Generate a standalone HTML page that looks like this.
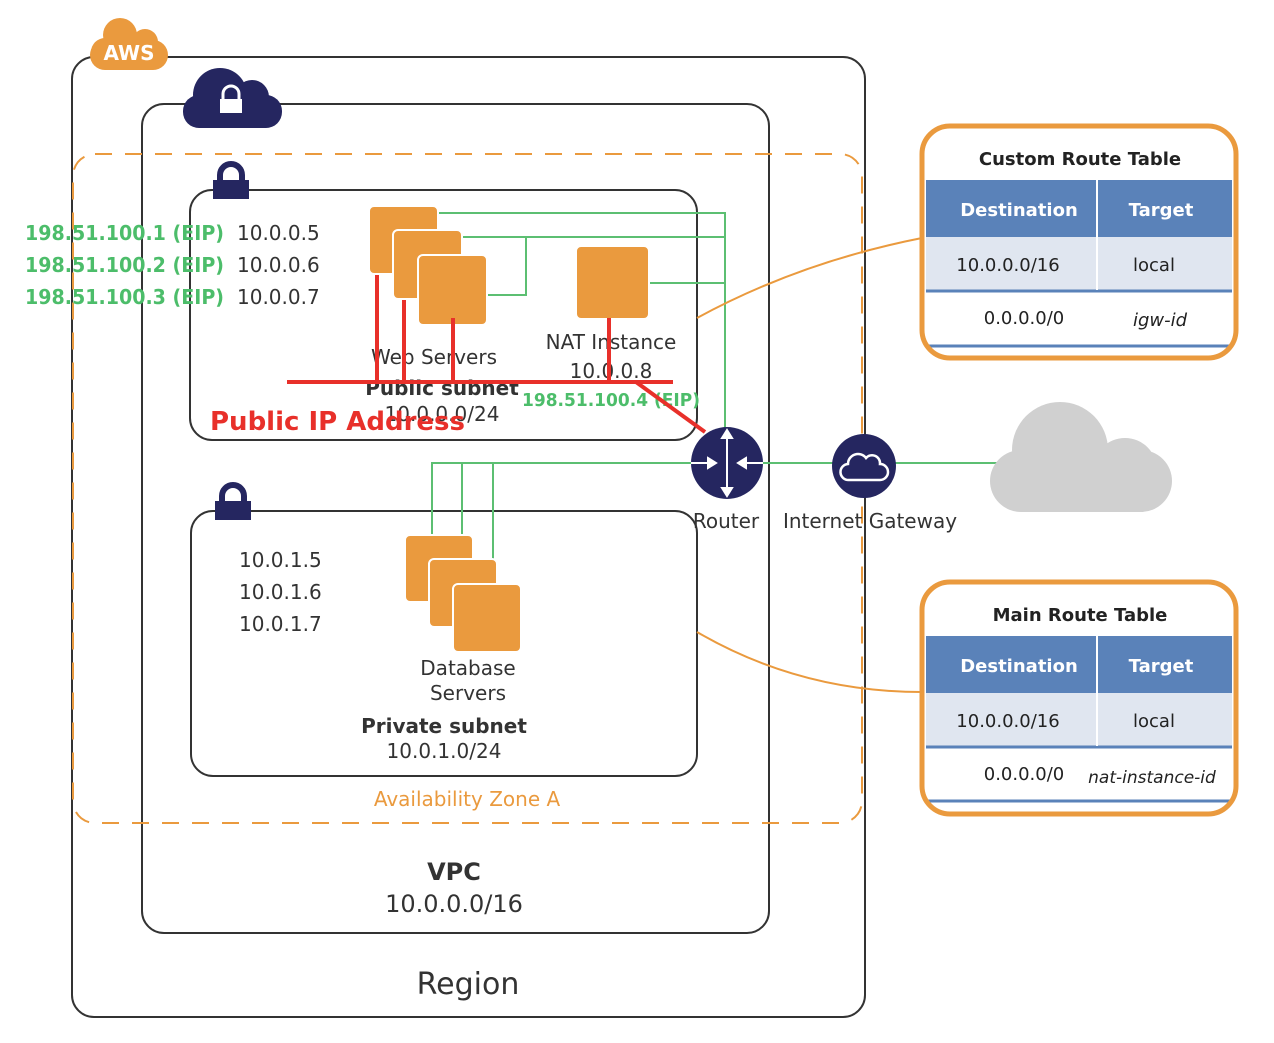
<!DOCTYPE html>
<html><head><meta charset="utf-8"><style>
body{margin:0;width:1274px;height:1038px;background:#fff;overflow:hidden}
svg text{font-family:"DejaVu Sans","Liberation Sans",sans-serif}
</style></head><body>
<svg width="1274" height="1038" viewBox="0 0 1274 1038" xmlns="http://www.w3.org/2000/svg">
<rect x="72" y="57" width="793" height="960" rx="22" fill="none" stroke="#333" stroke-width="2"/>
<g fill="#ea9a3e">
<circle cx="120" cy="35" r="17"/><circle cx="145" cy="42" r="13"/><rect x="90" y="40" width="78" height="30" rx="15"/><circle cx="105" cy="52" r="14"/>
</g>
<text x="129" y="60" font-size="20" fill="#fff" text-anchor="middle" font-weight="bold">AWS</text>
<rect x="142" y="104" width="627" height="829" rx="22" fill="none" stroke="#333" stroke-width="2"/>
<g fill="#252660">
<circle cx="220" cy="95" r="27"/><circle cx="252" cy="97" r="17"/><rect x="183" y="95" width="99" height="33" rx="16"/>
</g>
<rect x="220" y="99" width="22" height="14" fill="#fff"/><path d="M223 100 v-6 a8 8 0 0 1 16 0 v6" fill="none" stroke="#fff" stroke-width="3"/>
<rect x="73" y="154" width="789" height="669" rx="22" fill="none" stroke="#ea9a3e" stroke-width="2" stroke-dasharray="17 13"/>
<text x="467" y="806" font-size="20" fill="#ea9a3e" text-anchor="middle">Availability Zone A</text>
<rect x="190" y="190" width="507" height="250" rx="22" fill="#fff" stroke="#333" stroke-width="2"/>
<rect x="213" y="180" width="36" height="19" fill="#252660"/><path d="M220 181 v-6 a11 11 0 0 1 22 0 v6" fill="none" stroke="#252660" stroke-width="6"/>
<rect x="191" y="511" width="506" height="265" rx="22" fill="#fff" stroke="#333" stroke-width="2"/>
<rect x="215" y="501" width="36" height="19" fill="#252660"/><path d="M222 502 v-6 a11 11 0 0 1 22 0 v6" fill="none" stroke="#252660" stroke-width="6"/>
<g fill="none" stroke="#5cbf72" stroke-width="2">
<path d="M437 213 H725 V463"/><path d="M461 237 H725"/><path d="M486 295 H526 V237"/><path d="M648 283 H725"/>
<path d="M432 540 V463 H1000"/><path d="M462 564 V463"/><path d="M493 590 V463"/>
</g>
<g fill="#ea9a3e" stroke="#fff" stroke-width="2">
<rect x="369" y="206" width="69" height="68" rx="5"/>
<rect x="393" y="230" width="69" height="69" rx="5"/>
<rect x="418" y="255" width="69" height="70" rx="5"/>
<rect x="576" y="246" width="73" height="73" rx="5"/>
<rect x="405" y="535" width="68" height="67" rx="5"/>
<rect x="429" y="559" width="68" height="68" rx="5"/>
<rect x="453" y="584" width="68" height="68" rx="5"/>
</g>
<g font-size="20" fill="#333" text-anchor="middle">
<text x="434" y="364">Web Servers</text>
<text x="611" y="349">NAT Instance</text>
<text x="611" y="378">10.0.0.8</text>
<text x="442" y="395" font-weight="bold">Public subnet</text>
<text x="442" y="421">10.0.0.0/24</text>
<text x="468" y="675">Database</text>
<text x="468" y="700">Servers</text>
<text x="444" y="733" font-weight="bold">Private subnet</text>
<text x="444" y="758">10.0.1.0/24</text>
<text x="454" y="880" font-size="24" font-weight="bold">VPC</text>
<text x="454" y="912" font-size="24">10.0.0.0/16</text>
<text x="468" y="994" font-size="30">Region</text>
<text x="726" y="528">Router</text>
<text x="870" y="528">Internet Gateway</text>
</g>
<g font-size="20" fill="#333">
<text x="237" y="240">10.0.0.5</text><text x="237" y="272">10.0.0.6</text><text x="237" y="304">10.0.0.7</text>
<text x="239" y="567">10.0.1.5</text><text x="239" y="599">10.0.1.6</text><text x="239" y="631">10.0.1.7</text>
</g>
<g font-size="20" fill="#4cbd6a" font-weight="bold">
<text x="25" y="240" textLength="199" lengthAdjust="spacingAndGlyphs">198.51.100.1 (EIP)</text>
<text x="25" y="272" textLength="199" lengthAdjust="spacingAndGlyphs">198.51.100.2 (EIP)</text>
<text x="25" y="304" textLength="199" lengthAdjust="spacingAndGlyphs">198.51.100.3 (EIP)</text>
<text x="522" y="406" font-size="18" textLength="178" lengthAdjust="spacingAndGlyphs">198.51.100.4 (EIP)</text>
</g>
<circle cx="727" cy="463" r="36" fill="#252660"/>
<g stroke="#fff" stroke-width="2" fill="#fff">
<path d="M727 430 V496"/><path d="M691 463 H716"/><path d="M763 463 H738"/>
<path d="M722 438 L727 430 L732 438Z"/><path d="M722 488 L727 496 L732 488Z"/>
<path d="M708 458 L716 463 L708 468Z"/><path d="M746 458 L738 463 L746 468Z"/>
</g>
<circle cx="864" cy="466" r="32" fill="#252660"/>
<path d="M849 480 a8 8 0 0 1 -1 -16 a10 10 0 0 1 18 -6 a8 8 0 0 1 14 6 a6 6 0 0 1 0 16 Z" fill="none" stroke="#fff" stroke-width="2.5"/>
<g fill="#d0d0d0">
<circle cx="1060" cy="450" r="48"/><circle cx="1125" cy="470" r="32"/><rect x="990" y="450" width="182" height="62" rx="31"/>
</g>
<path d="M697 318 Q800 262 922 238" fill="none" stroke="#ea9a3e" stroke-width="2"/>
<path d="M697 632 Q800 692 922 692" fill="none" stroke="#ea9a3e" stroke-width="2"/>
<g stroke="#e8302a" stroke-width="4" fill="none">
<path d="M287 382 H673"/><path d="M377 275 V382"/><path d="M404 300 V382"/><path d="M453 318 V382"/><path d="M609 318 V382"/><path d="M636 382 L705 432"/>
</g>
<text x="210" y="430" font-size="26" fill="#e8302a" font-weight="bold" font-family="Liberation Sans">Public IP Address</text>
<g>
<rect x="926" y="180" width="306" height="57" fill="#5a82b9"/>
<rect x="926" y="237" width="306" height="53" fill="#e0e6f0"/>
<line x1="926" y1="291" x2="1232" y2="291" stroke="#5a82b9" stroke-width="3"/>
<line x1="926" y1="346" x2="1232" y2="346" stroke="#5a82b9" stroke-width="3"/>
<line x1="1097" y1="180" x2="1097" y2="290" stroke="#fff" stroke-width="2"/>
<rect x="922" y="126" width="314" height="232" rx="28" fill="none" stroke="#ea9a3e" stroke-width="5"/>
<text x="1080" y="165" font-size="18" fill="#222" text-anchor="middle" font-weight="bold">Custom Route Table</text>
<text x="1019" y="216" font-size="18" fill="#fff" text-anchor="middle" font-weight="bold">Destination</text>
<text x="1161" y="216" font-size="18" fill="#fff" text-anchor="middle" font-weight="bold">Target</text>
<text x="1008" y="271" font-size="18" fill="#222" text-anchor="middle">10.0.0.0/16</text>
<text x="1154" y="271" font-size="18" fill="#222" text-anchor="middle">local</text>
<text x="1024" y="324" font-size="18" fill="#222" text-anchor="middle">0.0.0.0/0</text>
<text x="1160" y="326" font-size="18" fill="#222" text-anchor="middle" font-style="italic">igw-id</text>
</g>
<g>
<rect x="926" y="636" width="306" height="57" fill="#5a82b9"/>
<rect x="926" y="693" width="306" height="53" fill="#e0e6f0"/>
<line x1="926" y1="747" x2="1232" y2="747" stroke="#5a82b9" stroke-width="3"/>
<line x1="926" y1="801" x2="1232" y2="801" stroke="#5a82b9" stroke-width="3"/>
<line x1="1097" y1="636" x2="1097" y2="746" stroke="#fff" stroke-width="2"/>
<rect x="922" y="582" width="314" height="232" rx="28" fill="none" stroke="#ea9a3e" stroke-width="5"/>
<text x="1080" y="621" font-size="18" fill="#222" text-anchor="middle" font-weight="bold">Main Route Table</text>
<text x="1019" y="672" font-size="18" fill="#fff" text-anchor="middle" font-weight="bold">Destination</text>
<text x="1161" y="672" font-size="18" fill="#fff" text-anchor="middle" font-weight="bold">Target</text>
<text x="1008" y="727" font-size="18" fill="#222" text-anchor="middle">10.0.0.0/16</text>
<text x="1154" y="727" font-size="18" fill="#222" text-anchor="middle">local</text>
<text x="1024" y="780" font-size="18" fill="#222" text-anchor="middle">0.0.0.0/0</text>
<text x="1152" y="783" font-size="17" fill="#222" text-anchor="middle" font-style="italic">nat-instance-id</text>
</g>
</svg>
</body></html>
